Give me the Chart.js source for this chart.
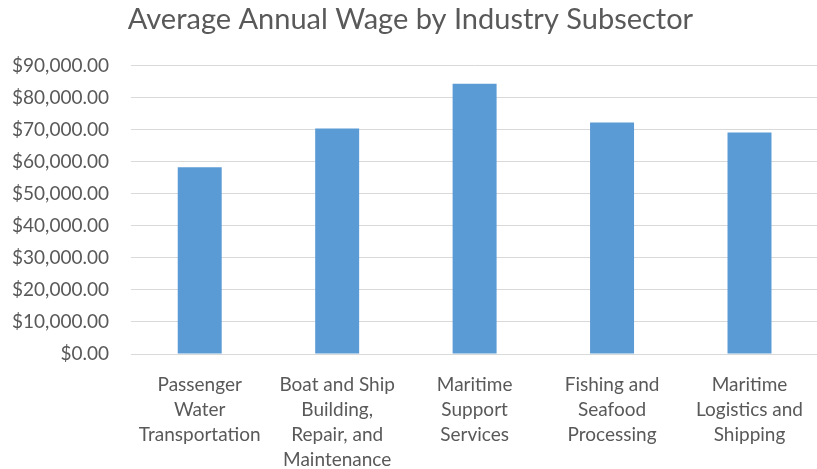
<!DOCTYPE html>
<html>
<head>
<meta charset="utf-8">
<script src="https://cdn.jsdelivr.net/npm/chart.js@4"></script>
<style>
  html, body { margin: 0; padding: 0; background: #fff; overflow: hidden; }
  /* plot area runs a few px past the right edge in the original */
  #wrap { width: 821px; height: 469px; }
</style>
</head>
<body>
<div id="wrap"><canvas id="chart"></canvas></div>
<script>
// data
const subsectors = [
  ["Passenger", "Water", "Transportation"],
  ["Boat and Ship", "Building,", "Repair, and", "Maintenance"],
  ["Maritime", "Support", "Services"],
  ["Fishing and", "Seafood", "Processing"],
  ["Maritime", "Logistics and", "Shipping"],
];
const avgWage = [58300, 70400, 84400, 72300, 69200];
const yMax = 90000;
const yStep = 10000;

const ctx = document.querySelector("#chart").getContext("2d");

Chart.defaults.font.family = "Lato";
Chart.defaults.color = "#595959";

const money = (v) =>
  "$" + v.toLocaleString("en-US", { minimumFractionDigits: 2, maximumFractionDigits: 2 });

new Chart(ctx, {
  type: "bar",
  data: {
    labels: subsectors,
    datasets: [
      {
        label: "Average Annual Wage",
        data: avgWage,
        backgroundColor: "#5b9bd5",
        borderWidth: 0,
        barPercentage: 0.32,
        categoryPercentage: 1,
      },
    ],
  },
  options: {
    responsive: true,
    maintainAspectRatio: false,
    animation: false,
    layout: { padding: 0 },
    plugins: {
      legend: { display: false },
      tooltip: { enabled: false },
      title: {
        display: true,
        text: "Average Annual Wage by Industry Subsector",
        color: "#595959",
        font: { size: 29, weight: "normal", lineHeight: 1.2 },
        padding: { top: 2, bottom: 29 },
      },
    },
    scales: {
      x: {
        grid: { display: false, drawTicks: false },
        border: { color: "#d9d9d9", width: 1 },
        ticks: {
          font: { size: 19, lineHeight: 1.32 },
          padding: 18,
          maxRotation: 0,
          autoSkip: false,
        },
        afterFit: (scale) => {
          scale.height = 115;
        },
      },
      y: {
        min: 0,
        max: yMax,
        grid: { color: "#d9d9d9", drawTicks: false },
        border: { display: false },
        ticks: {
          stepSize: yStep,
          font: { size: 19 },
          padding: 22,
          callback: (v) => money(v),
        },
        afterFit: (scale) => {
          scale.width = 131;
        },
      },
    },
  },
});
</script>
</body>
</html>
